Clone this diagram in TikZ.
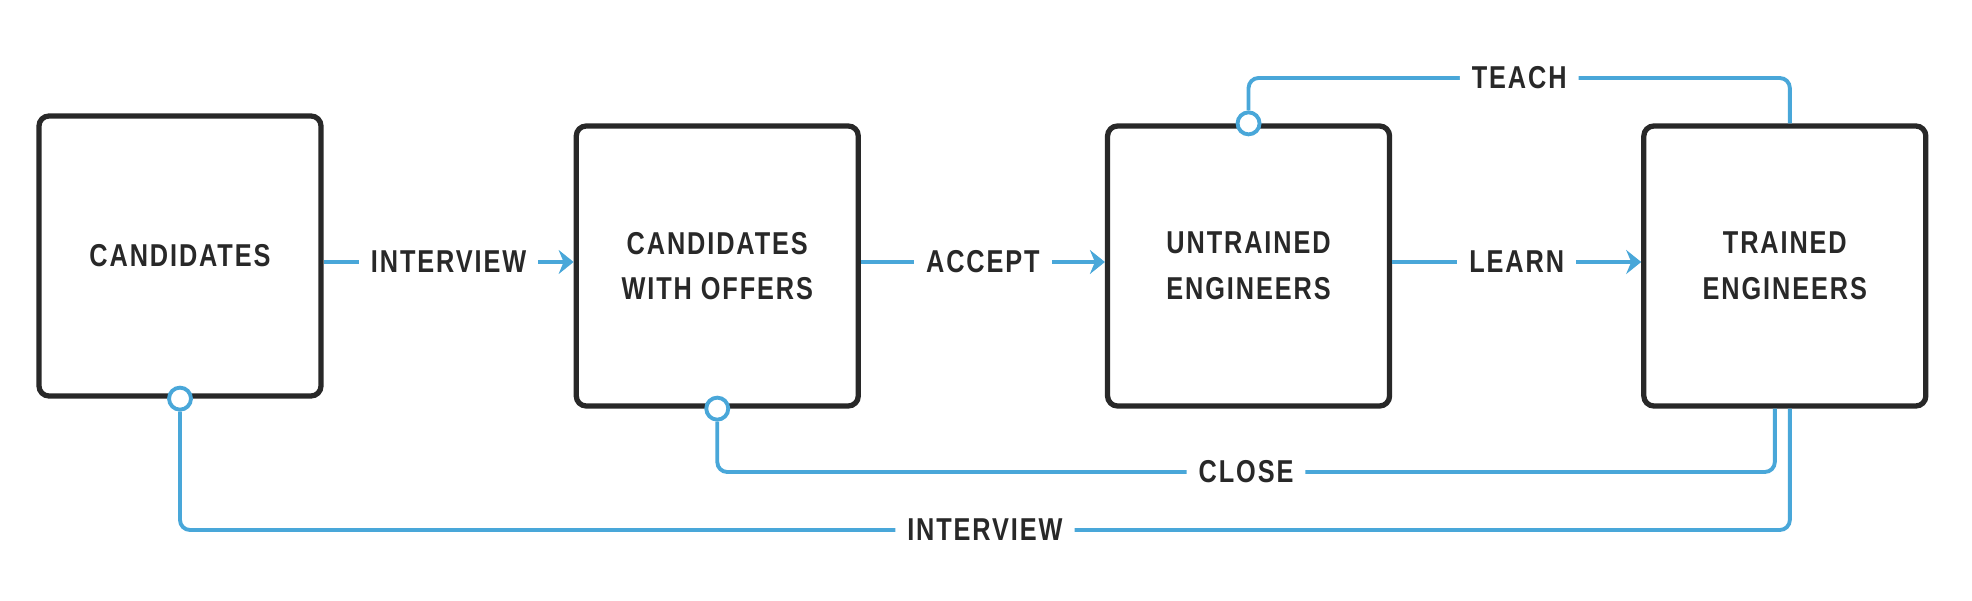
\documentclass[tikz,border=0pt]{standalone}
\usepackage{fontspec}
\setmainfont{Liberation Sans}[FakeStretch=0.80, LetterSpace=6]
\usepackage{xcolor}
\usetikzlibrary{positioning, arrows.meta}
\definecolor{flowblue}{RGB}{73,167,217}
\definecolor{ink}{RGB}{40,40,40}

\begin{document}
\begin{tikzpicture}[font=\bfseries\fontsize{9}{13}\selectfont]
    \useasboundingbox (0,0) rectangle (19.72,6);
    \tikzset{
        stock/.style={draw=ink, line width=1.5pt, rounded corners=1mm,
            minimum width=2.82cm, minimum height=2.8cm, align=center, text=ink},
        flow/.style={draw=flowblue, line width=1.1pt,
            -{Stealth[length=1.5mm,width=2.4mm,inset=0.5mm]}},
        loopline/.style={draw=flowblue, line width=1.1pt, rounded corners=1mm},
        lbl/.style={fill=white, text=ink, inner xsep=1.2mm},
        tap/.style={circle, draw=flowblue, line width=1.1pt, fill=white,
            inner sep=0pt, minimum size=2.2mm}
    }
    % the stocks
        \node[stock] (cand) at (1.80,3.44) {CANDIDATES};
        \node[stock,
            right=2.50cm of cand,
            yshift=-1mm
            ] (offer) {CANDIDATES\\WITH OFFERS};
        \node[stock,
            right=2.44cm of offer
            ] (untr) {UNTRAINED\\ENGINEERS};
        \node[stock,
            right=2.49cm of untr
            ] (trai) {TRAINED\\ENGINEERS};
    % taps on the boxes
        \node[tap] (tcand) at (cand.south) {};
        \node[tap] (toffer) at (offer.south) {};
        \node[tap] (tuntr) at (untr.north) {};
        \coordinate (teachy) at (0,5.22);
        \coordinate (closey) at (0,1.28);
        \coordinate (backy) at (0,0.70);

    % forward flows
        \draw[flow] ([yshift=0.4mm]offer.west -| cand.east) -- node[lbl]{INTERVIEW} ([yshift=0.4mm]offer.west);
        \draw[flow] ([yshift=0.4mm]offer.east) -- node[lbl]{ACCEPT} ([yshift=0.4mm]untr.west);
        \draw[flow] ([yshift=0.4mm]untr.east) -- node[lbl]{LEARN} ([yshift=0.4mm]trai.west);

    % feedback loops
        \draw[loopline] ([xshift=0.5mm]trai.north) |- node[lbl,pos=0.75]{TEACH} (tuntr |- teachy) -- (tuntr);
        \draw[loopline] ([xshift=-1mm]trai.south) |- node[lbl,pos=0.75]{CLOSE} (toffer |- closey) -- (toffer);
        \draw[loopline] ([xshift=0.5mm]trai.south) |- node[lbl,pos=0.75]{INTERVIEW} (tcand |- backy) -- (tcand);
\end{tikzpicture}
\end{document}
